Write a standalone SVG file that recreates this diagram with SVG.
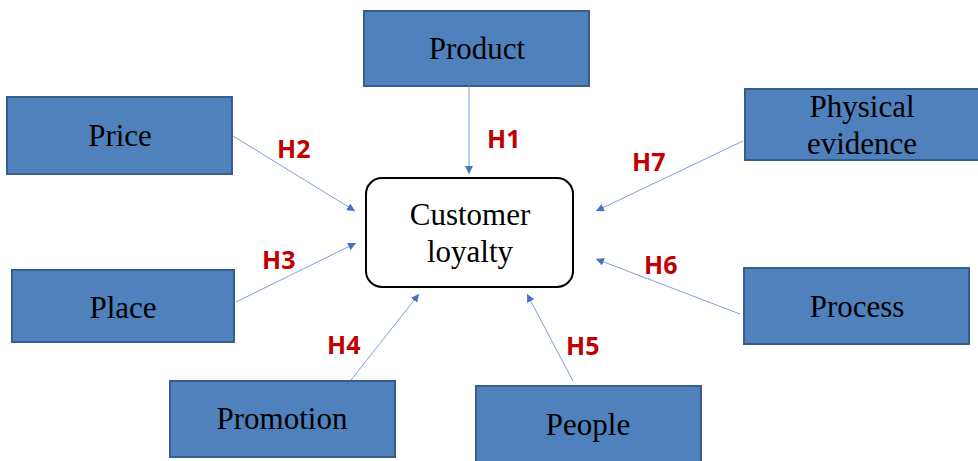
<svg xmlns="http://www.w3.org/2000/svg" width="978" height="461" viewBox="0 0 978 461">
  <defs>
    <marker id="arrowhead" viewBox="0 0 10 10" refX="10" refY="5" markerWidth="8" markerHeight="8" markerUnits="userSpaceOnUse" orient="auto">
      <path d="M0,0 L10,5 L0,10 Z" fill="#4472c4"/>
    </marker>
    <style>
      .box { fill: #4f81bd; stroke: #385d8a; stroke-width: 2; }
      .label { font-family: "Liberation Serif", "Times New Roman", serif; font-size: 31px; fill: #000; text-anchor: middle; }
      .hyp { font-family: "Open Sans", "Liberation Sans", sans-serif; font-weight: bold; font-size: 25px; fill: #c00000; }
      .edge { stroke: #7f9fd6; stroke-width: 1; fill: none; marker-end: url(#arrowhead); }
    </style>
  </defs>
  <rect width="978" height="461" fill="#ffffff"/>

  <!-- central construct -->
  <g id="customer-loyalty">
    <rect x="366" y="178" width="207" height="109" rx="16" ry="16" fill="#ffffff" stroke="#000000" stroke-width="2"/>
    <text class="label" x="470" y="225">Customer</text>
    <text class="label" x="470" y="262">loyalty</text>
  </g>

  <!-- marketing mix factors -->
  <g id="product">
    <rect class="box" x="364" y="11" width="225" height="75"/>
    <text class="label" x="477" y="59">Product</text>
  </g>
  <g id="price">
    <rect class="box" x="7" y="97" width="225" height="77"/>
    <text class="label" x="120" y="146">Price</text>
  </g>
  <g id="place">
    <rect class="box" x="12" y="270" width="222" height="72"/>
    <text class="label" x="123" y="318">Place</text>
  </g>
  <g id="promotion">
    <rect class="box" x="170" y="381" width="225" height="76"/>
    <text class="label" x="282" y="429">Promotion</text>
  </g>
  <g id="people">
    <rect class="box" x="476" y="386" width="225" height="80"/>
    <text class="label" x="588" y="435">People</text>
  </g>
  <g id="process">
    <rect class="box" x="744" y="268" width="225" height="76"/>
    <text class="label" x="857" y="317">Process</text>
  </g>
  <g id="physical-evidence">
    <rect class="box" x="745" y="89" width="236" height="71"/>
    <text class="label" x="862" y="117">Physical</text>
    <text class="label" x="862" y="154">evidence</text>
  </g>

  <!-- hypothesised paths -->
  <g id="connectors">
    <line class="edge" x1="469" y1="86" x2="469" y2="174"/>
    <line class="edge" x1="233" y1="136" x2="355" y2="211"/>
    <line class="edge" x1="236" y1="302" x2="356" y2="243"/>
    <line class="edge" x1="351" y1="380" x2="419" y2="294"/>
    <line class="edge" x1="573" y1="381" x2="527" y2="294"/>
    <line class="edge" x1="740" y1="314" x2="596" y2="259"/>
    <line class="edge" x1="743" y1="141" x2="596" y2="211"/>
  </g>

  <!-- hypothesis labels -->
  <g id="hypotheses">
    <text class="hyp" x="487" y="148">H1</text>
    <text class="hyp" x="277" y="158">H2</text>
    <text class="hyp" x="262" y="269">H3</text>
    <text class="hyp" x="327" y="354">H4</text>
    <text class="hyp" x="566" y="355">H5</text>
    <text class="hyp" x="644" y="274">H6</text>
    <text class="hyp" x="632" y="171">H7</text>
  </g>
</svg>
